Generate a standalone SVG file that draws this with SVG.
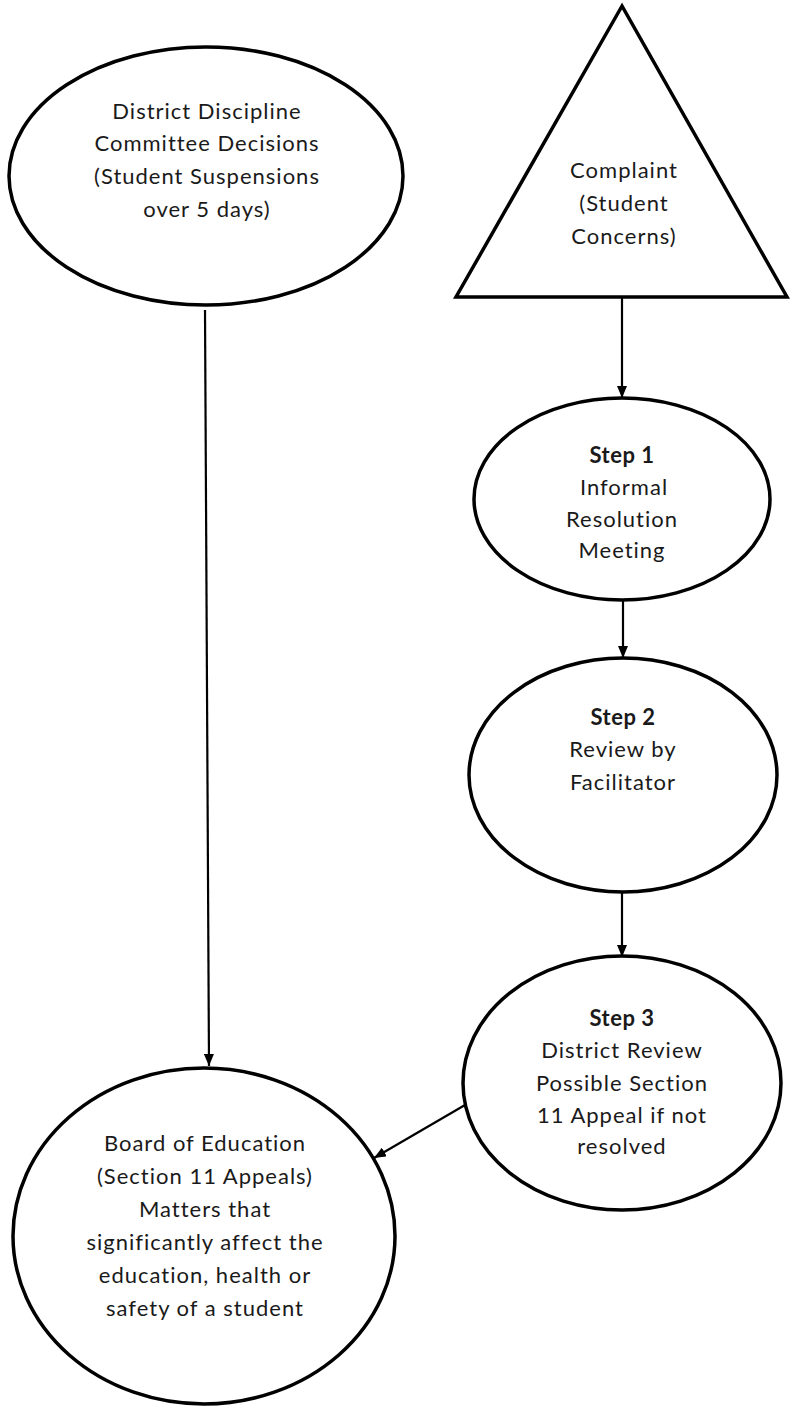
<svg xmlns="http://www.w3.org/2000/svg" width="790" height="1407" viewBox="0 0 790 1407">
<defs>
<marker id="arr" viewBox="0 0 12 10" refX="12" refY="5" markerWidth="12" markerHeight="10" markerUnits="userSpaceOnUse" orient="auto">
<path d="M0,0 L12,5 L0,10 Z" fill="#000"/>
</marker>
<style>
.shape{fill:#fff;stroke:#000;stroke-width:3.5}
.conn{fill:none;stroke:#000;stroke-width:2.2}
text{font-family:Lato,"Open Sans","Liberation Sans",sans-serif;font-size:22px;letter-spacing:1px;fill:#1a1a1a;text-anchor:middle}
.b{font-weight:bold;letter-spacing:0.5px}
</style>
</defs>
<rect width="790" height="1407" fill="#fff"/>
<g id="connectors">
<line class="conn" x1="205" y1="310" x2="209" y2="1066" marker-end="url(#arr)"/>
<line class="conn" x1="622" y1="298" x2="622" y2="398" marker-end="url(#arr)"/>
<line class="conn" x1="623" y1="601" x2="623" y2="658" marker-end="url(#arr)"/>
<line class="conn" x1="622" y1="893" x2="622" y2="957" marker-end="url(#arr)"/>
<line class="conn" x1="465" y1="1105" x2="374" y2="1158" marker-end="url(#arr)"/>
</g>
<g id="discipline">
<ellipse class="shape" cx="206" cy="176" rx="197" ry="129"/>
<text x="207" y="119">District Discipline</text>
<text x="207" y="151">Committee Decisions</text>
<text x="207" y="184">(Student Suspensions</text>
<text x="207" y="217">over 5 days)</text>
</g>
<g id="complaint">
<polygon class="shape" points="622,6 456,297 787,297"/>
<text x="624" y="178">Complaint</text>
<text x="624" y="211">(Student</text>
<text x="624" y="244">Concerns)</text>
</g>
<g id="step1">
<ellipse class="shape" cx="622" cy="499" rx="148" ry="101"/>
<text class="b" x="622" y="463">Step 1</text>
<text x="624" y="495">Informal</text>
<text x="622" y="527">Resolution</text>
<text x="622" y="558">Meeting</text>
</g>
<g id="step2">
<ellipse class="shape" cx="623" cy="775" rx="154" ry="117"/>
<text class="b" x="623" y="725">Step 2</text>
<text x="623" y="757">Review by</text>
<text x="623" y="790">Facilitator</text>
</g>
<g id="step3">
<ellipse class="shape" cx="622" cy="1083" rx="159" ry="127"/>
<text class="b" x="622" y="1026">Step 3</text>
<text x="622" y="1058">District Review</text>
<text x="622" y="1091">Possible Section</text>
<text x="622" y="1123">11 Appeal if not</text>
<text x="622" y="1154">resolved</text>
</g>
<g id="board">
<ellipse class="shape" cx="204" cy="1236" rx="191" ry="168"/>
<text x="205" y="1151">Board of Education</text>
<text x="205" y="1184">(Section 11 Appeals)</text>
<text x="205" y="1217">Matters that</text>
<text x="205" y="1250">significantly affect the</text>
<text x="205" y="1283">education, health or</text>
<text x="205" y="1316">safety of a student</text>
</g>
</svg>
